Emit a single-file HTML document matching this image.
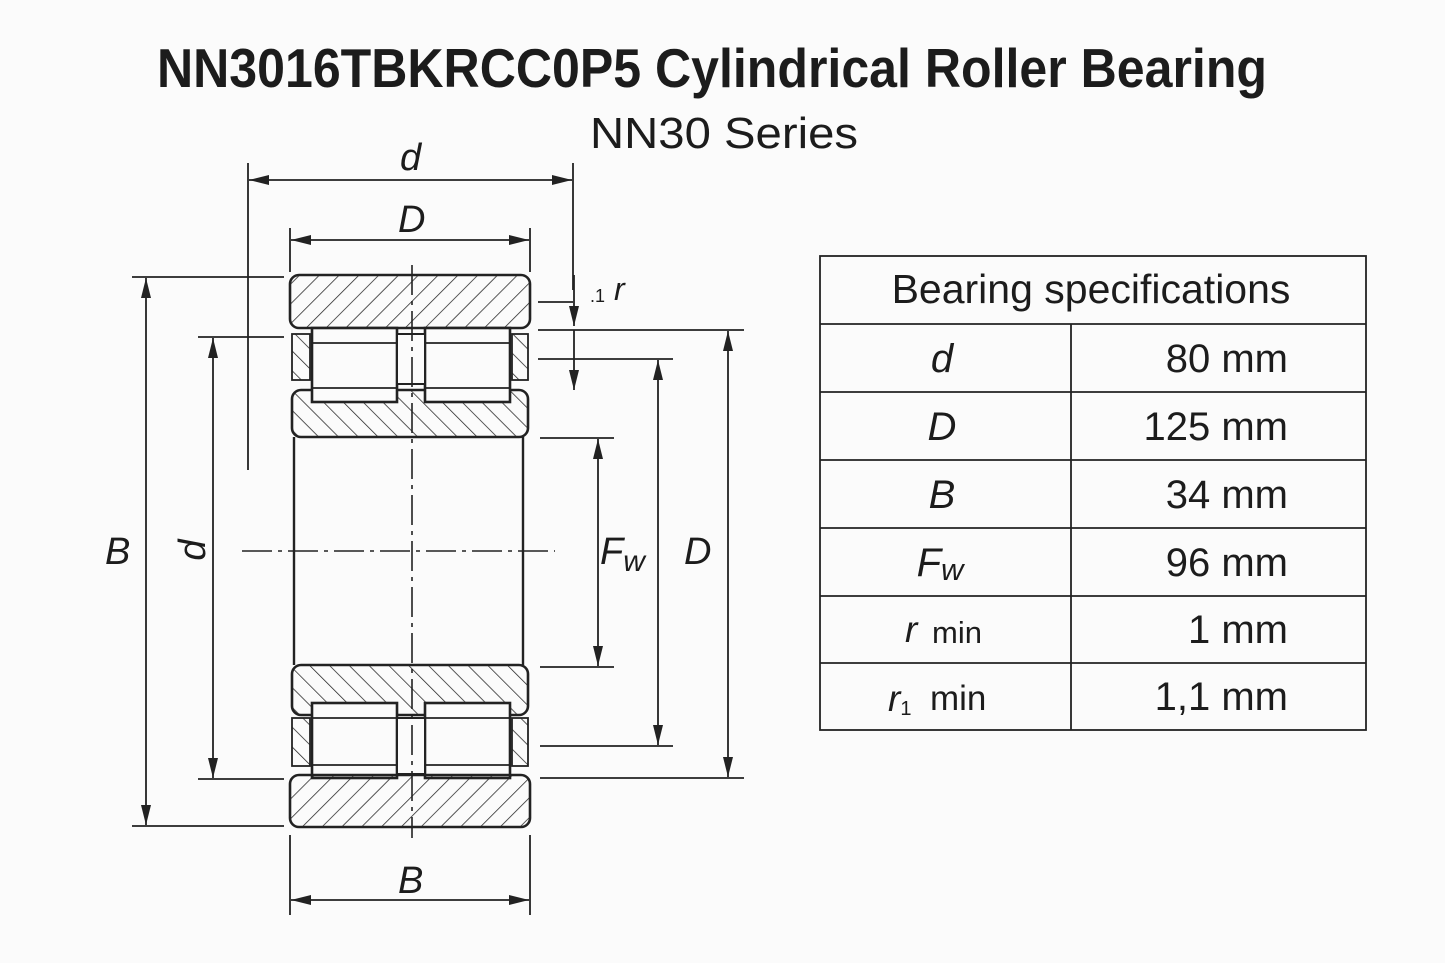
<!DOCTYPE html>
<html><head><meta charset="utf-8"><style>
html,body{margin:0;padding:0;background:#fbfbfb;}
svg{display:block;font-family:"Liberation Sans",sans-serif;}
</style></head><body>
<svg width="1445" height="963" viewBox="0 0 1445 963" xmlns="http://www.w3.org/2000/svg">
<defs>
<pattern id="hf" patternUnits="userSpaceOnUse" width="14" height="14" patternTransform="rotate(45)"><line x1="0" y1="0" x2="0" y2="14" stroke="#222" stroke-width="1.5"/></pattern>
<pattern id="hb" patternUnits="userSpaceOnUse" width="14" height="14" patternTransform="rotate(-45)"><line x1="0" y1="0" x2="0" y2="14" stroke="#222" stroke-width="1.5"/></pattern>
<marker id="a" viewBox="0 0 20 10" refX="20" refY="5" markerWidth="20" markerHeight="10" markerUnits="userSpaceOnUse" orient="auto-start-reverse"><path d="M0,0L20,5L0,10z" fill="#222"/></marker>
</defs>
<rect width="1445" height="963" fill="#fbfbfb"/>
<text x="157" y="87" font-size="55" font-weight="bold" fill="#1c1c1c" textLength="1110" lengthAdjust="spacingAndGlyphs">NN3016TBKRCC0P5  Cylindrical Roller Bearing</text>
<text x="590" y="148" font-size="44" fill="#1c1c1c" textLength="268" lengthAdjust="spacingAndGlyphs">NN30 Series</text>

<g stroke="#222" fill="none" stroke-width="1.8">
<rect x="290" y="275" width="240" height="53" rx="9" fill="url(#hf)" stroke-width="2.6"/>
<rect x="292" y="390" width="236" height="47" rx="9" fill="url(#hb)" stroke-width="2.6"/>
<rect x="292" y="334" width="18" height="46" fill="url(#hb)"/>
<rect x="512" y="334" width="16" height="46" fill="url(#hb)"/>
<rect x="312" y="328" width="85" height="74" fill="#fbfbfb" stroke-width="2.6"/>
<rect x="425" y="328" width="85" height="74" fill="#fbfbfb" stroke-width="2.6"/>
<line x1="312" y1="343" x2="397" y2="343"/><line x1="312" y1="388" x2="397" y2="388"/>
<line x1="425" y1="343" x2="510" y2="343"/><line x1="425" y1="388" x2="510" y2="388"/>
<rect x="397" y="334" width="28" height="50" fill="#fbfbfb" stroke-width="2"/>
<line x1="294" y1="437" x2="294" y2="665" stroke-width="2.4"/>
<line x1="523" y1="437" x2="523" y2="665" stroke-width="2.4"/>
<rect x="292" y="665" width="236" height="50" rx="9" fill="url(#hb)" stroke-width="2.6"/>
<rect x="292" y="718" width="18" height="48" fill="url(#hb)"/>
<rect x="512" y="718" width="16" height="48" fill="url(#hb)"/>
<rect x="312" y="703" width="85" height="75" fill="#fbfbfb" stroke-width="2.6"/>
<rect x="425" y="703" width="85" height="75" fill="#fbfbfb" stroke-width="2.6"/>
<line x1="312" y1="718" x2="397" y2="718"/><line x1="312" y1="765" x2="397" y2="765"/>
<line x1="425" y1="718" x2="510" y2="718"/><line x1="425" y1="765" x2="510" y2="765"/>
<rect x="397" y="718" width="28" height="56" fill="#fbfbfb" stroke-width="2"/>
<rect x="290" y="775" width="240" height="52" rx="9" fill="url(#hf)" stroke-width="2.6"/>
<line x1="412" y1="265" x2="412" y2="838" stroke-dasharray="30,6,4,6" stroke-width="1.6"/>
<line x1="242" y1="551" x2="555" y2="551" stroke-dasharray="30,6,4,6" stroke-width="1.5"/>
</g>

<g stroke="#222" stroke-width="1.8" fill="none">
<line x1="248" y1="163" x2="248" y2="470"/>
<line x1="573" y1="163" x2="573" y2="290"/>
<line x1="249" y1="180" x2="572" y2="180" marker-start="url(#a)" marker-end="url(#a)"/>
<line x1="290" y1="228" x2="290" y2="272"/>
<line x1="530" y1="228" x2="530" y2="272"/>
<line x1="291" y1="240" x2="529" y2="240" marker-start="url(#a)" marker-end="url(#a)"/>
<line x1="132" y1="277" x2="284" y2="277"/>
<line x1="132" y1="826" x2="284" y2="826"/>
<line x1="146" y1="278" x2="146" y2="825" marker-start="url(#a)" marker-end="url(#a)"/>
<line x1="198" y1="337" x2="284" y2="337"/>
<line x1="198" y1="779" x2="284" y2="779"/>
<line x1="213" y1="338" x2="213" y2="778" marker-start="url(#a)" marker-end="url(#a)"/>
<line x1="538" y1="302" x2="573" y2="302"/>
<line x1="574" y1="275" x2="574" y2="326" marker-end="url(#a)"/>
<line x1="574" y1="330" x2="574" y2="390" marker-end="url(#a)"/>
<line x1="538" y1="330" x2="744" y2="330"/>
<line x1="538" y1="359" x2="673" y2="359"/>
<line x1="540" y1="438" x2="614" y2="438"/>
<line x1="540" y1="667" x2="614" y2="667"/>
<line x1="540" y1="746" x2="673" y2="746"/>
<line x1="540" y1="778" x2="744" y2="778"/>
<line x1="598" y1="439" x2="598" y2="666" marker-start="url(#a)" marker-end="url(#a)"/>
<line x1="658" y1="360" x2="658" y2="745" marker-start="url(#a)" marker-end="url(#a)"/>
<line x1="728" y1="331" x2="728" y2="777" marker-start="url(#a)" marker-end="url(#a)"/>
<line x1="290" y1="835" x2="290" y2="915"/>
<line x1="530" y1="835" x2="530" y2="915"/>
<line x1="291" y1="900" x2="529" y2="900" marker-start="url(#a)" marker-end="url(#a)"/>
</g>

<g fill="#1c1c1c" font-style="italic" font-size="38">
<text x="400" y="170">d</text>
<text x="398" y="232">D</text>
<text x="105" y="564">B</text>
<text x="205" y="550" transform="rotate(-90 205 550)" text-anchor="middle">d</text>
<text x="600" y="564">F<tspan font-size="30" dy="7">w</tspan></text>
<text x="684" y="564">D</text>
<text x="398" y="893">B</text>
<text x="614" y="300" font-size="32">r</text>
<text x="590" y="302" font-size="18" font-style="normal">.1</text>
</g>

<g stroke="#222" stroke-width="1.8" fill="none">
<rect x="820" y="256" width="546" height="474"/>
<line x1="820" y1="324" x2="1366" y2="324"/>
<line x1="820" y1="392" x2="1366" y2="392"/>
<line x1="820" y1="460" x2="1366" y2="460"/>
<line x1="820" y1="528" x2="1366" y2="528"/>
<line x1="820" y1="596" x2="1366" y2="596"/>
<line x1="820" y1="663" x2="1366" y2="663"/>
<line x1="1071" y1="324" x2="1071" y2="730"/>
</g>
<g fill="#1c1c1c" font-size="40">
<text x="1091" y="303" text-anchor="middle" font-size="41">Bearing specifications</text>
<g font-style="italic" text-anchor="middle">
<text x="942" y="372">d</text>
<text x="942" y="440">D</text>
<text x="942" y="508">B</text>
<text x="940" y="576">F<tspan font-size="31" dy="4">w</tspan></text>
</g>
<text x="905" y="642" font-style="italic" font-size="37">r</text>
<text x="932" y="643" font-size="31">min</text>
<text x="888" y="711" font-style="italic" font-size="37">r<tspan font-style="normal" font-size="20" dy="4">1</tspan></text>
<text x="930" y="710" font-size="35">min</text>
<g text-anchor="end">
<text x="1288" y="372">80 mm</text>
<text x="1288" y="440">125 mm</text>
<text x="1288" y="508">34 mm</text>
<text x="1288" y="576">96 mm</text>
<text x="1288" y="643">1 mm</text>
<text x="1288" y="710">1,1 mm</text>
</g>
</g>
</svg>
</body></html>
